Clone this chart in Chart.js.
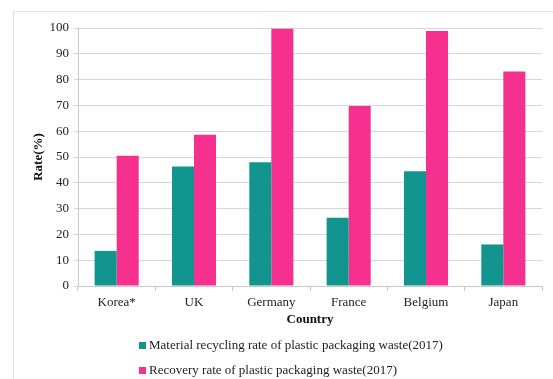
<!DOCTYPE html>
<html>
<head>
<meta charset="utf-8">
<script src="https://cdn.jsdelivr.net/npm/chart.js@4/dist/chart.umd.min.js"></script>
<style>
  body { margin: 0; background: #fff; }
  #wrap { position: relative; width: 553px; height: 379px; }
  #frame { position: absolute; left: 13px; top: 11px; right: 0; bottom: 0;
           border-top: 1px solid #e2e2e2; border-left: 1px solid #e2e2e2; }
  #chart { position: absolute; left: 0; top: 0; }
  #legend { position: absolute; left: 139px; top: 336px;
            font: 13px "Liberation Serif", "Times New Roman", serif; color: #222; }
  #legend div { height: 25px; line-height: 18px; white-space: nowrap; }
  #legend span { display: inline-block; width: 7px; height: 7px; margin-right: 3px; }
</style>
</head>
<body>
<div id="wrap">
  <div id="frame"></div>
  <canvas id="chart" width="553" height="379"></canvas>
  <div id="legend"></div>
</div>
<script>
"use strict";

// 1: data
const countries = ["Korea*", "UK", "Germany", "France", "Belgium", "Japan"];
const recyclingRate = [13.6, 46.3, 48.0, 26.5, 44.5, 16.1];
const recoveryRate = [50.5, 58.6, 99.7, 69.8, 98.8, 83.1];
const seriesNames = [
  "Material recycling rate of plastic packaging waste(2017)",
  "Recovery rate of plastic packaging waste(2017)"
];
const seriesColors = ["#13958f", "#f5308f"];

const serif = "'Liberation Serif', 'Times New Roman', serif";

// 2: chart
let chart = new Chart(document.getElementById("chart"), {
  type: "bar",
  data: {
    labels: countries,
    datasets: [{
      label: seriesNames[0],
      data: recyclingRate,
      backgroundColor: seriesColors[0]
    }, {
      label: seriesNames[1],
      data: recoveryRate,
      backgroundColor: seriesColors[1]
    }]
  },
  options: {
    responsive: false,
    animation: false,
    layout: { padding: { left: 27, top: 28, right: 11, bottom: 48 } },
    plugins: {
      legend: { display: false },
      tooltip: { enabled: false }
    },
    datasets: {
      bar: { categoryPercentage: 0.57, barPercentage: 1 }
    },
    scales: {
      x: {
        grid: { drawOnChartArea: false, tickLength: 5, color: "#c8c8c8" },
        border: { color: "#c8c8c8" },
        ticks: { color: "#222", font: { family: serif, size: 13 }, padding: 4 },
        title: { display: true, text: "Country", color: "#111",
                 font: { family: serif, size: 13, weight: "bold" }, padding: { top: 5 } },
        afterFit: (s) => { s.height = 45; }
      },
      y: {
        min: 0,
        max: 100,
        grid: { color: "#d6d6d6", tickLength: 4 },
        border: { color: "#c8c8c8" },
        ticks: { stepSize: 10, color: "#222", font: { family: serif, size: 13 }, padding: 5 },
        title: { display: true, text: "Rate(%)", color: "#111",
                 font: { family: serif, size: 13, weight: "bold" } },
        afterFit: (s) => { s.width = 51; }
      }
    }
  }
});

// 3: legend as html, one row per series
let legend = document.getElementById("legend");
for (const ds of chart.data.datasets) {
  let row = document.createElement("div");
  let box = document.createElement("span");
  box.style.background = ds.backgroundColor;
  row.appendChild(box);
  row.appendChild(document.createTextNode(ds.label));
  legend.appendChild(row);
}
</script>
</body>
</html>
